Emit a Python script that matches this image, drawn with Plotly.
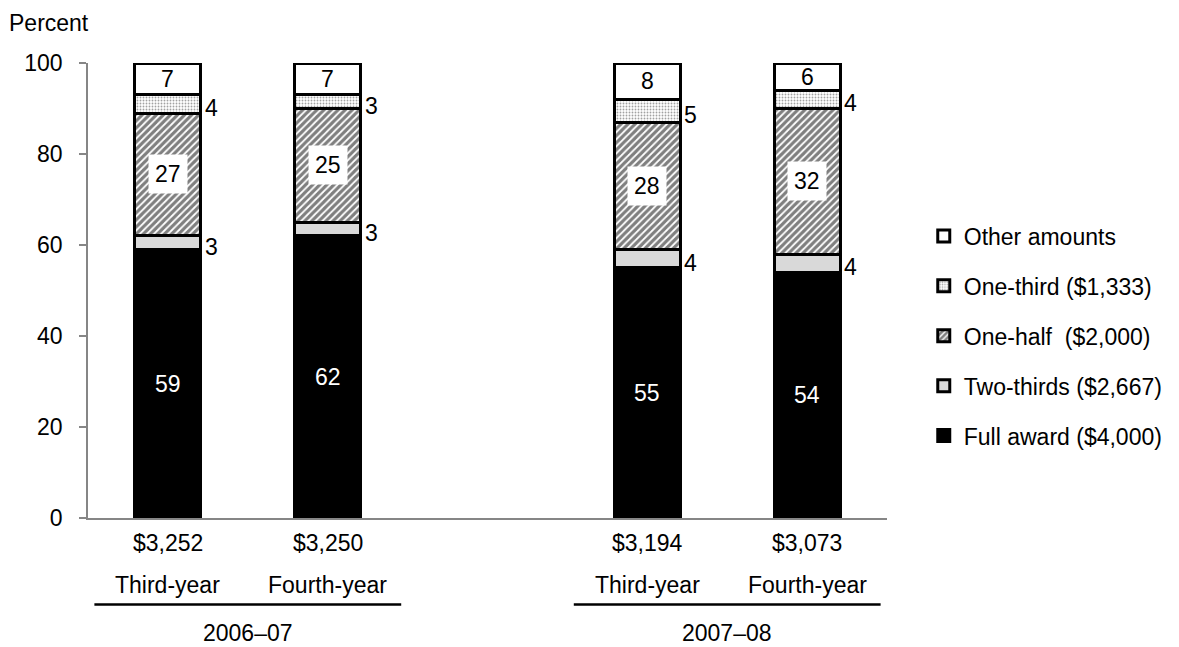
import plotly.graph_objects as go

# Award-level shares (percent) for each cohort / class year
cohorts = ["2006–07", "2007–08"]
class_years = ["Third-year", "Fourth-year"]
avg_award = [3252, 3250, 3194, 3073]

full_award = [59, 62, 55, 54]
two_thirds = [3, 3, 4, 4]
one_half = [27, 25, 28, 32]
one_third = [4, 3, 5, 4]
other_amounts = [7, 7, 8, 6]

series_names = [
    "Full award ($4,000)",
    "Two-thirds ($2,667)",
    "One-half\u00a0 ($2,000)",
    "One-third ($1,333)",
    "Other amounts",
]

FONT = "Arial, Liberation Sans, sans-serif"
FS = 23
BAR_W = 0.414

# x positions: two bars per cohort with an empty slot between cohorts
xpos = [g * 3 + i for g in range(len(cohorts)) for i in range(len(class_years))]
year_labels = [class_years[i] for g in range(len(cohorts)) for i in range(len(class_years))]

series = [full_award, two_thirds, one_half, one_third, other_amounts]
styles = [
    dict(color="black"),
    dict(color="#d9d9d9"),
    dict(color="white", pattern=dict(shape="/", fgcolor="black", bgcolor="white", size=5, solidity=0.65)),
    dict(color="white", pattern=dict(shape=".", fgcolor="#444444", bgcolor="white", size=3, solidity=0.3)),
    dict(color="white"),
]
# label placement per series: inside white text, outside right, boxed, outside right, inside black
label_modes = ["inside_white", "right", "boxed", "right", "inside_black"]

fig = go.Figure()
n = len(series)
for k, (name, vals, st) in enumerate(zip(series_names, series, styles)):
    marker = dict(line=dict(color="black", width=3), **st)
    fig.add_trace(go.Bar(
        x=xpos, y=vals, name=name, width=BAR_W, marker=marker,
        legendgroup=f"g{k}", legendrank=n - k, hoverinfo="skip",
    ))

annotations = []
base = [0] * len(xpos)
for vals, mode in zip(series, label_modes):
    for j, v in enumerate(vals):
        mid = base[j] + v / 2
        if mode == "right":
            annotations.append(dict(
                x=xpos[j] + BAR_W / 2, y=mid, xref="x", yref="y", text=str(v),
                showarrow=False, xanchor="left", yanchor="middle", xshift=2, yshift=-4,
                font=dict(family=FONT, size=FS, color="black"),
            ))
        elif mode == "boxed":
            annotations.append(dict(
                x=xpos[j], y=mid, xref="x", yref="y", text=str(v),
                showarrow=False, xanchor="center", yanchor="middle",
                bgcolor="white", borderpad=6,
                font=dict(family=FONT, size=FS, color="black"),
            ))
        else:
            annotations.append(dict(
                x=xpos[j], y=mid, xref="x", yref="y", text=str(v),
                showarrow=False, xanchor="center", yanchor="middle",
                font=dict(family=FONT, size=FS, color="white" if mode == "inside_white" else "black"),
            ))
        base[j] += v

# category labels under the axis
for j, x in enumerate(xpos):
    annotations.append(dict(
        x=x, y=-0.056, xref="x", yref="paper", text=f"${avg_award[j]:,}",
        showarrow=False, xanchor="center", yanchor="middle",
        font=dict(family=FONT, size=FS, color="black"),
    ))
    annotations.append(dict(
        x=x, y=-0.148, xref="x", yref="paper", text=year_labels[j],
        showarrow=False, xanchor="center", yanchor="middle",
        font=dict(family=FONT, size=FS, color="black"),
    ))

shapes = []
for g, c in enumerate(cohorts):
    center = g * 3 + 0.5
    annotations.append(dict(
        x=center, y=-0.252, xref="x", yref="paper", text=c,
        showarrow=False, xanchor="center", yanchor="middle",
        font=dict(family=FONT, size=FS, color="black"),
    ))
    shapes.append(dict(
        type="line", xref="x", yref="paper", x0=center - 0.96, x1=center + 0.96,
        y0=-0.190, y1=-0.190, line=dict(color="black", width=2.5),
    ))

annotations.append(dict(
    x=-0.102, y=1.088, xref="paper", yref="paper", text="Percent",
    showarrow=False, xanchor="left", yanchor="middle",
    font=dict(family=FONT, size=FS, color="black"),
))

fig.update_layout(
    width=1179, height=647,
    margin=dict(l=88, r=292, t=63, b=129, autoexpand=False),
    paper_bgcolor="white", plot_bgcolor="white",
    barmode="stack",
    font=dict(family=FONT, size=FS, color="black"),
    showlegend=True,
    legend=dict(
        x=1.046, y=0.667, xanchor="left", yanchor="top",
        traceorder="grouped", tracegroupgap=17,
        font=dict(family=FONT, size=FS, color="black"),
        bgcolor="rgba(0,0,0,0)",
    ),
    xaxis=dict(
        range=[-0.5, 4.5], showgrid=False, zeroline=False,
        showline=True, linecolor="#868686", linewidth=1.5,
        showticklabels=False, ticks="",
    ),
    yaxis=dict(
        range=[0, 100], tickvals=[0, 20, 40, 60, 80, 100],
        showgrid=False, zeroline=False,
        showline=True, linecolor="#868686", linewidth=1.5,
        ticks="outside", ticklen=7, tickcolor="#868686", tickwidth=1.5,
        ticklabelstandoff=12,
        tickfont=dict(family=FONT, size=FS, color="black"),
    ),
    annotations=annotations,
    shapes=shapes,
)

fig.write_html("out.html")
